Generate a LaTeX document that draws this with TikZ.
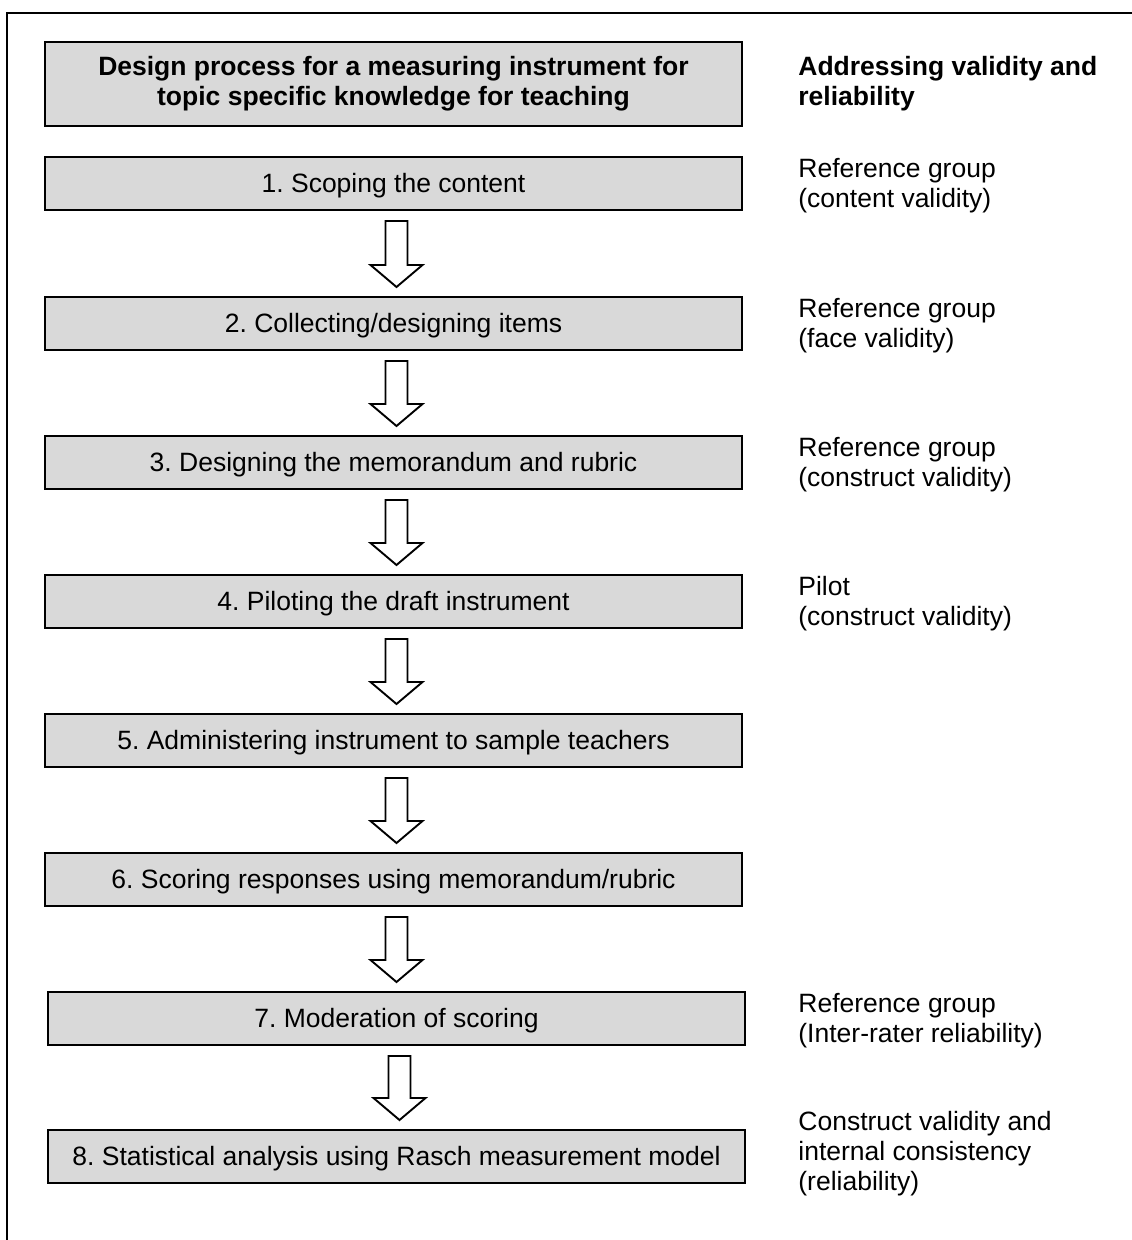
\documentclass[tikz,border=0pt]{standalone}
\usepackage{fontspec}
\setmainfont{Liberation Sans}
\usetikzlibrary{calc}
\definecolor{boxgray}{HTML}{D9D9D9}
\frenchspacing

% hollow block arrow from the bottom of one box to the top of the next
\newcommand{\blockarrow}[2]{%
  \draw[hollowarrow] let \p1=(#1.south), \p2=(#2.north) in
    (\x1-4pt,\y1-5pt) -- (\x1+7pt,\y1-5pt) -- (\x1+7pt,\y2+15.5pt)
    -- (\x1+14.5pt,\y2+15.5pt) -- (\x1+1.5pt,\y2+4.5pt)
    -- (\x1-11.5pt,\y2+15.5pt) -- (\x1-4pt,\y2+15.5pt) -- cycle;}

\begin{document}
\begin{tikzpicture}[x=0.5pt,y=-0.5pt,
  basefont/.style={font=\fontsize{13.25}{15}\selectfont},
  stepbox/.style={basefont, draw, line width=1pt, fill=boxgray,
    minimum width=348.5pt, minimum height=26.5pt, inner sep=0pt,
    text height=9.5pt, text depth=0.5pt},
  titlebox/.style={basefont, draw, line width=1pt, fill=boxgray,
    minimum width=348.5pt, minimum height=42pt, inner sep=0pt,
    align=center, font=\fontsize{13.25}{15}\selectfont\bfseries},
  sidelabel/.style={basefont, anchor=north west, inner sep=0pt, align=left},
  hollowarrow/.style={draw, line width=0.95pt, fill=white, line join=miter},
  frame/.style={draw, line width=1.3pt}]

\useasboundingbox (0,0) rectangle (1131,1240);

% outer frame (runs past the right and bottom edges)
\draw[frame] (7,1260) -- (7,13) -- (1150,13);

% process steps
\node[titlebox] (title) at (393.5,84)
  {Design process for a measuring instrument for\\topic specific knowledge for teaching};
\node[stepbox] (s1) at (393.5,183.5) {1. Scoping the content};
\node[stepbox] (s2) at (393.5,323.5) {2. Collecting/designing items};
\node[stepbox] (s3) at (393.5,462.5) {3. Designing the memorandum and rubric};
\node[stepbox] (s4) at (393.5,601.5) {4. Piloting the draft instrument};
\node[stepbox] (s5) at (393.5,740.5) {5. Administering instrument to sample teachers};
\node[stepbox] (s6) at (393.5,879.5) {6. Scoring responses using memorandum/rubric};
\node[stepbox] (s7) at (396.5,1018.5) {7. Moderation of scoring};
\node[stepbox] (s8) at (396.5,1156.5) {8. Statistical analysis using Rasch measurement model};

% arrows between steps
\blockarrow{s1}{s2}
\blockarrow{s2}{s3}
\blockarrow{s3}{s4}
\blockarrow{s4}{s5}
\blockarrow{s5}{s6}
\blockarrow{s6}{s7}
\blockarrow{s7}{s8}

% validity and reliability column
\node[sidelabel, font=\fontsize{13.25}{15}\selectfont\bfseries] (head) at (798,55)
  {\rule{0pt}{10pt}Addressing validity and\\reliability};
\node[sidelabel] (v1) at (798,157) {\rule{0pt}{10pt}Reference group\\(content validity)};
\node[sidelabel] (v2) at (798,297) {\rule{0pt}{10pt}Reference group\\(face validity)};
\node[sidelabel] (v3) at (798,436) {\rule{0pt}{10pt}Reference group\\(construct validity)};
\node[sidelabel] (v4) at (798,575) {\rule{0pt}{10pt}Pilot\\(construct validity)};
\node[sidelabel] (v7) at (798,992) {\rule{0pt}{10pt}Reference group\\(Inter-rater reliability)};
\node[sidelabel] (v8) at (798,1110)
  {\rule{0pt}{10pt}Construct validity and\\internal consistency\\(reliability)};

\end{tikzpicture}
\end{document}
